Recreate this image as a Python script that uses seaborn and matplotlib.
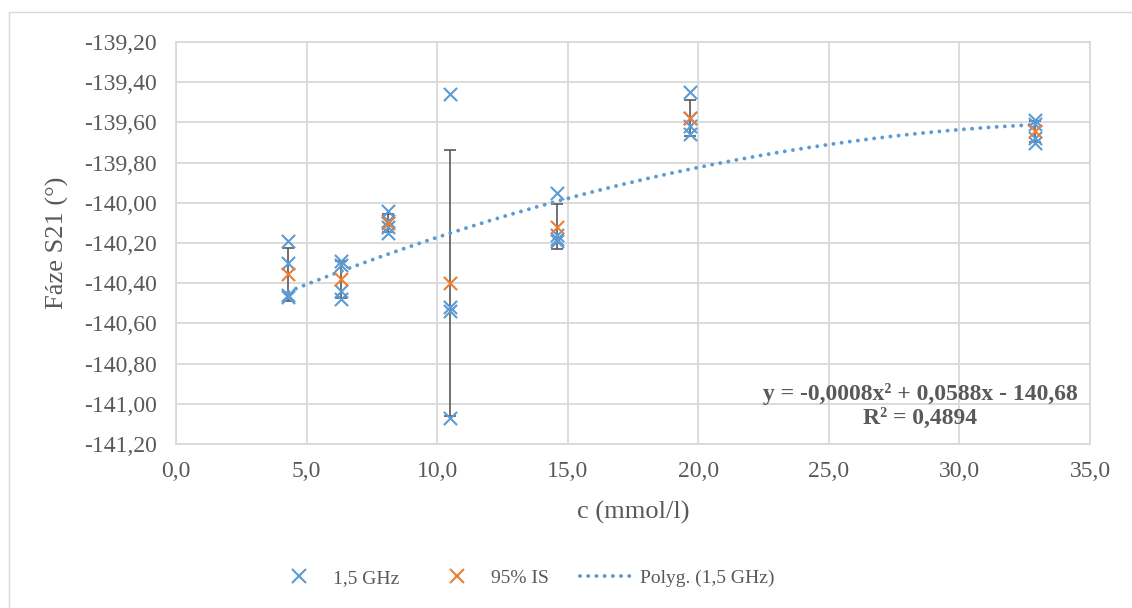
import numpy as np
import pandas as pd
import matplotlib
matplotlib.use("Agg")
import matplotlib.pyplot as plt
from matplotlib.lines import Line2D
from matplotlib.patches import Rectangle
from matplotlib.ticker import FuncFormatter
import seaborn as sns

# Concentrations (mmol/l) and four phase readings per concentration at 1.5 GHz
conc = [4.3, 6.3, 8.1, 10.5, 14.6, 19.7, 32.9]
phase_1 = [-140.19, -140.29, -140.04, -139.46, -139.95, -139.45, -139.59]
phase_2 = [-140.30, -140.31, -140.09, -140.52, -140.16, -139.58, -139.61]
phase_3 = [-140.46, -140.44, -140.12, -140.54, -140.18, -139.62, -139.68]
phase_4 = [-140.47, -140.48, -140.15, -141.07, -140.19, -139.66, -139.70]

# Quadratic trend reported on the chart
trend_coef = [-0.0008, 0.0588, -140.68]
trend_r2 = 0.4894

x_ticks = [0, 5, 10, 15, 20, 25, 30, 35]
y_ticks = [-141.2, -141.0, -140.8, -140.6, -140.4, -140.2, -140.0,
           -139.8, -139.6, -139.4, -139.2]

BLUE = "#5B9BD5"
ORANGE = "#ED7D31"
GREY_TXT = "#595959"
GRID = "#D9D9D9"

sns.set_theme(style="white")
plt.rcParams["font.family"] = ["Liberation Serif", "DejaVu Serif"]

# Long-form table of the raw readings
readings = np.array([phase_1, phase_2, phase_3, phase_4])
df = pd.DataFrame({
    "c": np.tile(conc, readings.shape[0]),
    "phase": readings.ravel(),
})

# Mean and 95 % interval (normal approximation) per concentration
stats = df.groupby("c")["phase"].agg(["mean", "std", "count"]).reset_index()
stats["ci"] = 1.96 * stats["std"] / np.sqrt(stats["count"])

fig = plt.figure(figsize=(11.32, 6.08), dpi=100)
ax = fig.add_axes([176 / 1132, 1 - 444 / 608, 914 / 1132, 402 / 608])

# Error bars of the interval
ax.errorbar(stats["c"], stats["mean"], yerr=stats["ci"], fmt="none",
            ecolor=GREY_TXT, elinewidth=1.2, capsize=4.0, capthick=1.2,
            zorder=2)

# Polynomial trend
TREND_DASH = (0.01, 2.1)
xt = np.linspace(min(conc), max(conc), 200)
yt = np.polyval(trend_coef, xt)
sns.lineplot(x=xt, y=yt, ax=ax, color=BLUE, linewidth=2.8, zorder=3,
             sort=False)
trend_line = ax.lines[-1]
trend_line.set_dashes(TREND_DASH)
trend_line.set_dash_capstyle("round")

# Raw readings and means
sns.scatterplot(data=df, x="c", y="phase", ax=ax, marker="x", color=BLUE,
                s=90, linewidth=1.5, zorder=4)
sns.scatterplot(data=stats, x="c", y="mean", ax=ax, marker="x", color=ORANGE,
                s=90, linewidth=1.5, zorder=5)

ax.set_xlim(0, 35)
ax.set_ylim(-141.2, -139.2)
ax.set_xticks(x_ticks)
ax.set_yticks(y_ticks)
ax.xaxis.set_major_formatter(FuncFormatter(lambda v, p: f"{v:.1f}".replace(".", ",")))
ax.yaxis.set_major_formatter(FuncFormatter(lambda v, p: f"{v:.2f}".replace(".", ",")))
ax.tick_params(axis="both", length=0, labelsize=17, labelcolor=GREY_TXT)
ax.tick_params(axis="y", pad=14)
ax.tick_params(axis="x", pad=12)
ax.grid(True, color=GRID, linewidth=1.3)
ax.set_axisbelow(True)
for sp in ax.spines.values():
    sp.set_color(GRID)
    sp.set_linewidth(1.3)
ax.set_xlabel("")
ax.set_ylabel("")

fig.text(57 / 1132, 1 - 243 / 608, "Fáze S21 (°)", rotation=90,
         ha="center", va="center", fontsize=19, color=GREY_TXT)
fig.text(633 / 1132, 1 - 512 / 608, "c (mmol/l)",
         ha="center", va="center", fontsize=19, color=GREY_TXT)

# Trend equation
a, b, c0 = trend_coef
def cz(v, nd):
    return f"{abs(v):.{nd}f}".replace(".", ",")
eq = (f"y = {'-' if a < 0 else ''}{cz(a, 4)}x² {'+' if b >= 0 else '-'} {cz(b, 4)}x "
      f"{'+' if c0 >= 0 else '-'} {cz(c0, 2)}\nR² = {cz(trend_r2, 4)}")
fig.text(920 / 1132, 1 - 406 / 608, eq, ha="center", va="center",
         fontsize=17, fontweight="bold", color=GREY_TXT, linespacing=1.15)

# Legend
handles = [
    Line2D([], [], linestyle="none", marker="x", color=BLUE, markersize=9.5,
           markeredgewidth=1.5),
    Line2D([], [], linestyle="none", marker="x", color=ORANGE, markersize=9.5,
           markeredgewidth=1.5),
    Line2D([], [], color=BLUE, linewidth=2.8, dashes=TREND_DASH,
           dash_capstyle="round"),
]
labels = ["1,5 GHz", "95% IS", "Polyg. (1,5 GHz)"]
fig.legend(handles, labels, loc="center", bbox_to_anchor=(524 / 1132, 1 - 578 / 608),
           ncol=3, frameon=False, fontsize=14, labelcolor=GREY_TXT,
           handlelength=2.7, handletextpad=0.4, columnspacing=1.6)

# Chart area border
fig.add_artist(Rectangle((9 / 1132, -0.05), 1.1, 0.05 + 1 - 12 / 608,
                         transform=fig.transFigure, fill=False,
                         edgecolor=GRID, linewidth=1.0))

fig.savefig("out.png", dpi=100)
